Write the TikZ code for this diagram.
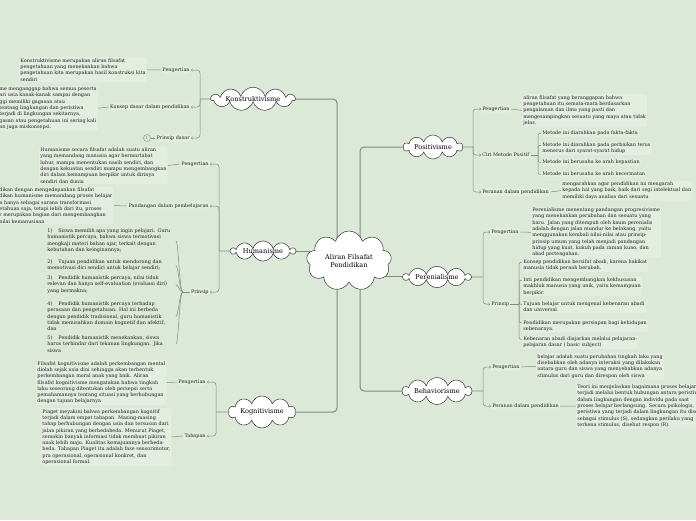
\documentclass[tikz,border=0pt]{standalone}
\usepackage{fontspec}
\setmainfont{DejaVu Serif}
\usetikzlibrary{shapes.symbols,arrows.meta,backgrounds,calc}
\definecolor{bgc}{RGB}{220,232,216}
\definecolor{boxc}{RGB}{227,237,224}
\definecolor{lc}{RGB}{128,140,126}
\definecolor{txtc}{RGB}{35,35,35}
\begin{document}
\begin{tikzpicture}[x=1pt,y=-1pt,
  lbl/.style={font=\fontsize{4.9}{6.3}\selectfont, inner sep=1.2pt, fill=boxc, rounded corners=1.5pt, text=txtc},
  txt/.style={font=\fontsize{4.9}{6.3}\selectfont, align=left, inner sep=1.2pt, fill=boxc, rounded corners=2pt, anchor=north west, text=txtc},
  itm/.style={font=\fontsize{4.9}{6.3}\selectfont, align=left, inner sep=1.2pt, anchor=north west, text=txtc, text width=127pt},
  cl/.style={cloud, cloud ignores aspect, draw=black!80, fill=white, line width=0.5pt, font=\fontsize{6.6}{7.8}\selectfont, align=center, inner sep=0pt, cloud puffs=10},
  br/.style={draw=lc, line width=0.9pt},
  leaf/.style={draw=lc, line width=0.5pt},
  arr/.style={draw=lc, line width=0.5pt, rounded corners=3pt, -{Straight Barb[length=1.3pt,width=2.6pt]}},
  hook/.style={draw=lc, line width=0.5pt, rounded corners=2pt},
  main/.style={draw=lc, line width=1pt, rounded corners=4pt}]
\useasboundingbox (0,0) rectangle (696,520);

% clouds
\node[cl, minimum width=85, minimum height=60, cloud puffs=9] (c) at (349,261) {Aliran Filsafat\\Pendidikan};
\node[cl, minimum width=84, minimum height=22, cloud puffs=11] (konst) at (253,99) {Konstruktivisme};
\node[cl, minimum width=64, minimum height=19] (human) at (263,251) {Humanisme};
\node[cl, minimum width=67, minimum height=20] (peren) at (437,277) {Perenialisme};
\node[cl, minimum width=67, minimum height=32] (kog) at (262,412) {Kognitivisme};
\node[cl, minimum width=69, minimum height=27] (behav) at (437,391) {Behaviorisme};
\node[cl, minimum width=59, minimum height=24] (posit) at (433,147) {Positivisme};

% Konstruktivisme
\coordinate (kj) at (200,99);
\node[lbl, anchor=east] (kpl) at (191,70) {Pengertian};
\node[lbl, anchor=east] (kkl) at (191,107) {Konsep dasar dalam pendidikan};
\node[lbl, anchor=east] (kdl) at (191,138) {Prinsip dasar};
\node[circle, draw=lc, line width=0.4pt, inner sep=0.5pt, minimum size=7pt, font=\fontsize{4}{4}\selectfont, text=lc] (kone) at (147,138) {1};
\node[txt] (kpt) at (19,57) {Konstruktivisme merupakan aliran filsafat\\ pengetahuan yang menekankan bahwa\\ pengetahuan kita merupakan hasil konstruksi kita\\ sendiri};
\node[txt] (kkt) at (-2,85.5) {me menganggap bahwa semua peserta\\ ari usia kanak-kanak sampai dengan\\ ggi memiliki gagasan atau\\ tentang lingkungan dan peristiwa\\ terjadi di lingkungan sekitarnya,\\ gasan atau pengetahuan ini sering kali\\ an juga miskonsepsi.};

% Humanisme
\coordinate (hj) at (219,251);
\node[lbl, anchor=east] (hpl) at (210,164) {Pengertian};
\node[lbl, anchor=east] (hdl) at (210,206) {Pandangan dalam pembelajaran};
\node[lbl, anchor=east] (hrl) at (210,292) {Prinsip};
\node[txt] (hpt) at (39,146.5) {Humanisme secara filsafat adalah suatu aliran\\ yang memandang manusia agar bermartabat\\ luhur, mampu menentukan nasib sendiri, dan\\ dengan kekuatan sendiri mampu mengembangkan\\ diri dalam kemampuan berpikir untuk dirinya\\ sendiri dan dunia};
\node[txt] (hdt) at (-2,186.5) {dikan dengan mengedepankan filsafat\\ dikan humanisme memandang proses belajar\\ n hanya sebagai sarana transformasi\\ etahuan saja, tetapi lebih dari itu, proses\\ r merupakan bagian dari mengembangkan\\ nilai kemanusiaan};
\coordinate (hb) at (183,292);
\node[itm] (h1) at (46,227.5) {1)\hspace{6pt}Siswa memilih apa yang ingin pelajari. Guru\\ humanistik percaya, bahwa siswa termotivasi\\ mengkaji materi bahan ajar, terkait dengan\\ kebutuhan dan keinginannya;};
\node[itm] (h2) at (46,258.5) {2)\hspace{6pt}Tujuan pendidikan untuk mendorong dan\\ memotivasi diri sendiri untuk belajar sendiri;};
\node[itm] (h3) at (46,274.5) {3)\hspace{6pt}Pendidik humanistik percaya, nilai tidak\\ relevan dan hanya self-evaluation (evaluasi diri)\\ yang bermakna;};
\node[itm] (h4) at (46,300.5) {4)\hspace{6pt}Pendidik humanistik percaya terhadap\\ perasaan dan pengetahuan. Hal ini berbeda\\ dengan pendidik tradisional, guru humanistik\\ tidak memisahkan domain kognetif dan afektif;\\ dan};
\node[itm] (h5) at (46,334.5) {5)\hspace{6pt}Pendidik humanistik menekankan, siswa\\ harus terhindar dari tekanan lingkungan. Jika\\ siswa};

% Kognitivisme
\coordinate (gj) at (216,412);
\node[lbl, anchor=east] (gpl) at (207,382) {Pengertian};
\node[lbl, anchor=east] (gtl) at (207,436) {Tahapan};
\node[txt] (gpt) at (36,360) {Filsafat kognitivisme adalah perkembangan mental\\ diolah sejak usia dini sehingga akan terbentuk\\ perkembangan moral anak yang baik. Aliran\\ filsafat kognitivisme mengatakan bahwa tingkah\\ laku seseorang ditentukan oleh persepsi serta\\ pemahamannya tentang situasi yang berhubungan\\ dengan tujuan belajarnya};
\node[txt] (gtt) at (41,408) {Piaget meyakini bahwa perkembangan kognitif\\ terjadi dalam empat tahapan. Masing-masing\\ tahap berhubungan dengan usia dan tersusun dari\\ jalan pikiran yang berbedabeda. Menurut Piaget,\\ semakin banyak informasi tidak membuat pikiran\\ anak lebih maju. Kualitas kemajuannya berbeda-\\ beda. Tahapan Piaget itu adalah fase sensorimotor,\\ pra operasional, operasional konkret, dan\\ operasional formal.};

% Positivisme
\coordinate (pj) at (473,147);
\node[lbl, anchor=west] (ppl) at (481,109) {Pengertian};
\node[lbl, anchor=west] (pcl) at (481,155) {Ciri Metode Positif};
\node[lbl, anchor=west] (prl) at (481,192) {Peranan dalam pendidikan};
\node[txt] (ppt) at (522,94) {aliran filsafat yang beranggapan bahwa\\ pengetahuan itu semata-mata berdasarkan\\ pengalaman dan ilmu yang pasti dan\\ mengesampingkan sesuatu yang maya atau tidak\\ jelas.};
\coordinate (pcj) at (538,155);
\node[txt] (pc1) at (541,129.5) {Metode ini diarahkan pada fakta-fakta};
\node[txt] (pc2) at (541,141.5) {Metode ini diarahkan pada perbaikan terus\\ menerus dari syarat-syarat hidup};
\node[txt] (pc3) at (541,158.5) {Metode ini berusaha ke arah kepastian};
\node[txt] (pc4) at (541,170.5) {Metode ini berusaha ke arah kecermatan};
\node[txt] (prt) at (561,180.5) {mengarahkan agar pendidikan ini mengarah\\ kepada hal yang baik, baik dari segi intelektual dan\\ memiliki daya analisa dari sesuatu};

% Perenialisme
\coordinate (ej) at (483,277);
\node[lbl, anchor=west] (epl) at (490,232) {Pengertian};
\node[lbl, anchor=west] (erl) at (490,304) {Prinsip};
\node[txt] (ept) at (531,206.5) {Perenialisme menentang pandangan progresivisme\\ yang menekankan perubahan dan sesuatu yang\\ baru. Jalan yang ditempuh oleh kaum perenialis\\ adalah dengan jalan mundur ke belakang, yaitu\\ menggunakan kembali nilai-nilai atau prinsip-\\ prinsip umum yang telah menjadi pandangan\\ hidup yang kuat, kukuh pada zaman kuno, dan\\ abad pertengahan.};
\coordinate (ejj) at (519,304);
\node[txt] (e1) at (522,258.5) {Konsep pendidikan bersifat abadi, karena hakikat\\ manusia tidak pernah berubah.};
\node[txt] (e2) at (522,276.5) {Inti pendidikan mengembangkan kekhususan\\ makhluk manusia yang unik, yaitu kemampuan\\ berpikir.};
\node[txt] (e3) at (522,300.5) {Tujuan belajar untuk mengenal kebenaran abadi\\ dan universal.};
\node[txt] (e4) at (522,319) {Pendidikan merupakan persiapan bagi kehidupan\\ sebenarnya.};
\node[txt] (e5) at (522,335.5) {Kebenaran abadi diajarkan melalui pelajaran-\\ pelajaran dasar ( basic subject)};

% Behaviorisme
\coordinate (bj) at (483,391);
\node[lbl, anchor=west] (bpl) at (491,367) {Pengertian};
\node[lbl, anchor=west] (brl) at (491,406) {Peranan dalam pendidikan};
\node[txt] (bpt) at (536,353) {belajar adalah suatu perubahan tingkah laku yang\\ disebabkan oleh adanya interaksi yang dilakukan\\ antara guru dan siswa yang menyebabkan adanya\\ stimulus dari guru dan direspon oleh siswa};
\node[txt] (brt) at (576,383.5) {Teori ini menjelaskan bagaimana proses belajar\\ terjadi melalui bentuk hubungan antara peristiwa\\ dalam lingkungan dengan individu pada saat\\ proses belajar berlangsung. Secara psikologis,\\ peristiwa yang terjadi dalam lingkungan itu disebut\\ sebagai stimulus (S), sedangkan perilaku yang\\ terkena stimulus, disebut respon (R).};

\begin{pgfonlayer}{background}
\fill[bgc] (0,0) rectangle (696,520);
% main branches
\draw[main] (konst.east) -| ($(c.center)+(-12,0)$);
\draw[main] (kog.east) -| ($(c.center)+(-12,0)$);
\draw[main] (posit.west) -| ($(c.center)+(11,0)$);
\draw[main] (behav.west) -| ($(c.center)+(11,0)$);
\draw[main] (human.east) -- (human.east -| c.center);
\draw[main] (peren.west) -- (peren.west -| c.center);
% Konstruktivisme
\draw[br] (konst.west) -- (kj);
\draw[arr] (kj) |- (kpl.east);
\draw[arr] (kj) |- (kkl.east);
\draw[arr] (kj) |- (kdl.east);
\draw[leaf] (kpt.east) -- (kpl.west);
\draw[leaf] (kkt.east) -- (kkl.west);
\draw[leaf] (kone) -- (kdl.west);
% Humanisme
\draw[br] (human.west) -- (hj);
\draw[arr] (hj) |- (hpl.east);
\draw[arr] (hj) |- (hdl.east);
\draw[arr] (hj) |- (hrl.east);
\draw[leaf] (hpt.east) -- (hpl.west);
\draw[leaf] (hdt.east) -- (hdl.west);
\draw[leaf] (hb) -- (hrl.west);
\foreach \i in {h1,h2,h3,h4,h5}
  \draw[leaf] (hb) .. controls +(-4,0) and +(3,0) .. (\i.east);
% Kognitivisme
\draw[br] (kog.west) -- (gj);
\draw[arr] (gj) |- (gpl.east);
\draw[arr] (gj) |- (gtl.east);
\draw[leaf] (gpt.east) -- (gpl.west);
\draw[leaf] (gtt.east) -- (gtl.west);
% Positivisme
\draw[br] (posit.east) -- (pj);
\draw[arr] (pj) |- (ppl.west);
\draw[arr] (pj) |- (pcl.west);
\draw[arr] (pj) |- (prl.west);
\draw[leaf] (ppl.east) -- (ppt.west);
\draw[br] (pcl.east) -- (pcj);
\foreach \i in {pc1,pc2,pc3,pc4}
  \draw[hook] (pcj) |- ($(\i.north west)+(0,3.8)$);
\draw[leaf] (prl.east) -- (prt.west);
% Perenialisme
\draw[br] (peren.east) -- (ej);
\draw[arr] (ej) |- (epl.west);
\draw[arr] (ej) |- (erl.west);
\draw[leaf] (epl.east) -- (ept.west);
\draw[br] (erl.east) -- (ejj);
\foreach \i in {e1,e2,e3,e4,e5}
  \draw[hook] (ejj) |- ($(\i.north west)+(0,3.8)$);
% Behaviorisme
\draw[br] (behav.east) -- (bj);
\draw[arr] (bj) |- (bpl.west);
\draw[arr] (bj) |- (brl.west);
\draw[leaf] (bpl.east) -- (bpt.west);
\draw[leaf] (brl.east) -- (brt.west);
\end{pgfonlayer}
\end{tikzpicture}
\end{document}
